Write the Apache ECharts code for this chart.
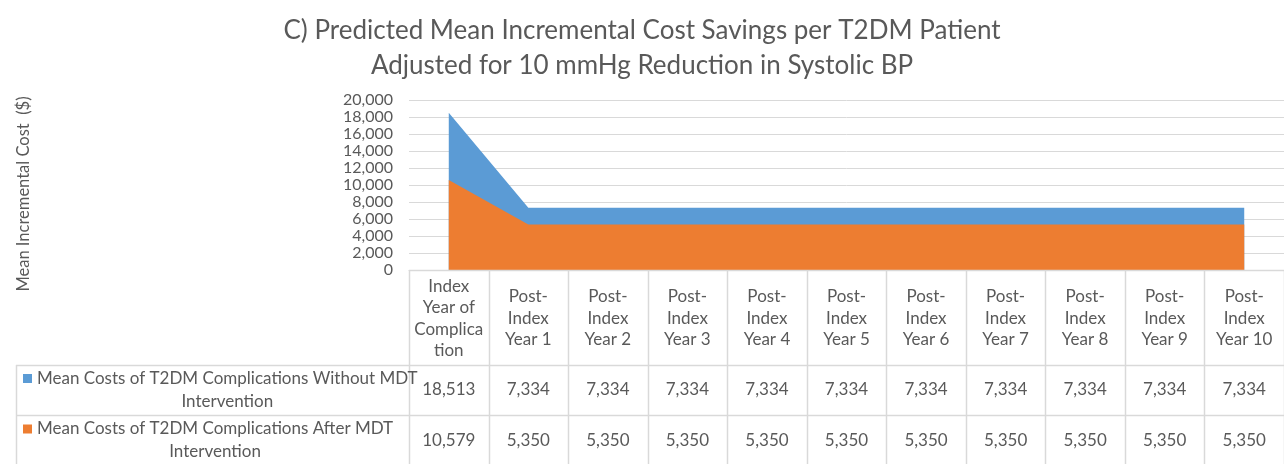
<!DOCTYPE html>
<html><head><meta charset="utf-8">
<script src="https://cdn.jsdelivr.net/npm/echarts@6/dist/echarts.min.js"></script>
<style>html,body{margin:0;padding:0;background:#fff}#c{width:1284px;height:464px}</style>
</head><body><div id="c"></div>
<script>
const categories = ['Index\nYear of\nComplica\ntion','Post-\nIndex\nYear 1','Post-\nIndex\nYear 2','Post-\nIndex\nYear 3','Post-\nIndex\nYear 4','Post-\nIndex\nYear 5','Post-\nIndex\nYear 6','Post-\nIndex\nYear 7','Post-\nIndex\nYear 8','Post-\nIndex\nYear 9','Post-\nIndex\nYear 10'];
const seriesNames = ['Mean Costs of T2DM Complications Without MDT Intervention','Mean Costs of T2DM Complications After MDT Intervention'];
const rowLabels = ['Mean Costs of T2DM Complications Without MDT\nIntervention','Mean Costs of T2DM Complications After MDT\nIntervention'];
const withoutMDT = [18513,7334,7334,7334,7334,7334,7334,7334,7334,7334,7334];
const afterMDT = [10579,5350,5350,5350,5350,5350,5350,5350,5350,5350,5350];
const colors = ['#5b9bd5','#ed7d31'];
const titleText = 'C) Predicted Mean Incremental Cost Savings per T2DM Patient\nAdjusted for 10 mmHg Reduction in Systolic BP';
const yTitle = 'Mean Incremental Cost  ($)';

const FONT = 'Lato';
const TXT = '#595959';
const GRID = '#d9d9d9';
const fmt = v => v.toLocaleString('en-US');

const chart = echarts.init(document.getElementById('c'), null, {renderer:'canvas'});
chart.setOption({
  animation:false,
  backgroundColor:'#fff',
  title:{text:titleText, left:'center', top:8, textStyle:{fontFamily:FONT, fontSize:26, fontWeight:'normal', color:TXT, lineHeight:35}},
  grid:{left:409, right:0, top:100, height:170, containLabel:false},
  xAxis:{type:'category', data:categories, boundaryGap:true,
    axisLine:{show:true, lineStyle:{color:GRID, width:1}}, axisTick:{show:false}, axisLabel:{show:false}},
  yAxis:{type:'value', min:0, max:20000, interval:2000,
    axisLine:{show:false}, axisTick:{show:false},
    axisLabel:{fontFamily:FONT, fontSize:16, color:TXT, margin:16, formatter:v=>fmt(v)},
    splitLine:{lineStyle:{color:GRID, width:1}}},
  series:[
    {name:seriesNames[0], type:'line', data:withoutMDT, symbol:'none', lineStyle:{width:0}, areaStyle:{color:colors[0], opacity:1}, z:2},
    {name:seriesNames[1], type:'line', data:afterMDT, symbol:'none', lineStyle:{width:0}, areaStyle:{color:colors[1], opacity:1}, z:3}
  ]
});

const ctx = document.createElement('canvas').getContext('2d');
ctx.font = '17px ' + FONT;
const px = i => chart.convertToPixel({xAxisIndex:0}, i);
const bw = px(1) - px(0);
const tableLeft = px(0) - bw/2;
const tableRight = px(categories.length-1) + bw/2;
const labelLeft = 16;
const yTop = 270, yHead = 365, yRow1 = 415, yRow2 = 466;
const g = [];
const line = (x1,y1,x2,y2) => g.push({type:'line', shape:{x1,y1,x2,y2}, style:{stroke:GRID, lineWidth:1.5}, z:10});
for (let i=0;i<=categories.length;i++){
  const x = Math.round(tableLeft + i*bw)+0.5;
  line(x, yTop, x, yRow2);
}
line(labelLeft+0.5, yHead, labelLeft+0.5, yRow2);
line(tableLeft, yTop+0.5, tableRight, yTop+0.5);
line(labelLeft, yHead+0.5, tableRight, yHead+0.5);
line(labelLeft, yRow1+0.5, tableRight, yRow1+0.5);
line(labelLeft, yRow2+0.5, tableRight, yRow2+0.5);
categories.forEach((c,i)=>{
  g.push({type:'text', x:px(i), y:(yTop+yHead)/2+1, style:{text:c, fontFamily:FONT, fontSize:17, lineHeight:21.5, fill:TXT, align:'center', verticalAlign:'middle'}, z:11});
});
const rows = [withoutMDT, afterMDT];
const rowMid = [(yHead+yRow1)/2, (yRow1+yRow2)/2];
rows.forEach((arr,r)=>{
  arr.forEach((v,i)=>{
    g.push({type:'text', x:px(i), y:rowMid[r], style:{text:fmt(v), fontFamily:FONT, fontSize:17, fill:TXT, align:'center', verticalAlign:'middle'}, z:11});
  });
  const parts = rowLabels[r].split('\n');
  const w = ctx.measureText(parts[0]).width;
  const textLeft = 37;
  const lh = 23;
  g.push({type:'rect', shape:{x:23, y:rowMid[r]-lh/2-4.5, width:9, height:9}, style:{fill:colors[r]}, z:11});
  g.push({type:'text', x:textLeft + w/2, y:rowMid[r], style:{
    text:rowLabels[r], fontFamily:FONT, fontSize:17, lineHeight:lh, fill:TXT, align:'center', verticalAlign:'middle'}, z:11});
});
g.push({type:'text', x:24, y:194, rotation:Math.PI/2, style:{text:yTitle, fontFamily:FONT, fontSize:16.5, fill:TXT, align:'center', verticalAlign:'middle'}, z:11});
chart.setOption({graphic:g});
</script>
</body></html>
